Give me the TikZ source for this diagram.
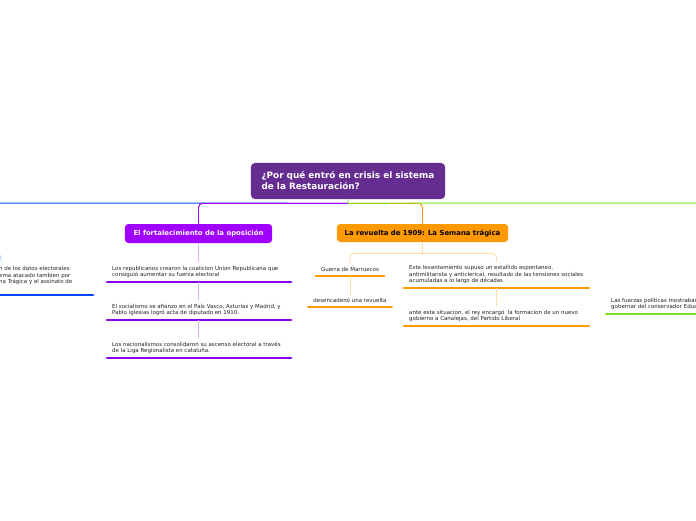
\documentclass[tikz,border=0pt]{standalone}
\usepackage{fontspec}
\setmainfont{DejaVu Sans}

\definecolor{rootcol}{HTML}{662D91}
\definecolor{oppocol}{HTML}{A000FF}
\definecolor{oppodark}{HTML}{8C00E6}
\definecolor{oppolight}{HTML}{DDB3FF}
\definecolor{revcol}{HTML}{FF9900}
\definecolor{revlight}{HTML}{FFDDAA}
\definecolor{bluecol}{HTML}{0047FF}
\definecolor{bluelight}{HTML}{A8C4FF}
\definecolor{greencol}{HTML}{80E020}
\definecolor{leafcol}{HTML}{222222}

\newcommand{\leaffont}{\fontsize{3.9}{4.6}\selectfont}

\begin{document}
\begin{tikzpicture}[x=0.025cm, y=-0.025cm,
  topic/.style={rounded corners=2.5pt, text=white, inner sep=0pt,
    font=\fontsize{4.9}{5.5}\selectfont\bfseries},
  leaf/.style={font=\leaffont, text=leafcol, align=left, inner xsep=3.5pt, inner ysep=2.6pt},
  under/.style={line width=2pt, line cap=round},
  link/.style={line width=0.7pt},
  soft/.style={line width=0.7pt, rounded corners=3pt}]

% page
\fill[white] (0,0) rectangle (696,520);
\useasboundingbox (0,0) rectangle (696,520);
\clip (0,0) rectangle (696,520);

% central topic
\node[topic, fill=rootcol, minimum width=4.85cm, minimum height=0.9cm, align=left,
  rounded corners=2.8pt, font=\fontsize{6.3}{7.8}\selectfont\bfseries]
  (root) at (348,181) {¿Por qué entró en crisis el sistema\\de la Restauración?};
\path (root.south) ++(0,4) coordinate (hub);
\coordinate (westend) at (-5,203);
\coordinate (eastend) at (701,203);

% main topics
\node[topic, fill=oppocol, minimum width=3.68cm, minimum height=0.475cm]
  (oppo) at (198.5,233.5) {El fortalecimiento de la oposición};
\node[topic, fill=revcol, text=black, minimum width=4.28cm, minimum height=0.45cm]
  (revuelta) at (422.5,233) {La revuelta de 1909: La Semana trágica};

% main connectors
\draw[link, bluecol] (hub) -- (westend);
\draw[soft, revcol] (hub) -| (revuelta.north);
\draw[soft, oppocol] (hub) -| (oppo.north);
\draw[link, greencol] (root.south) -- (hub) -- (eastend);

% left branch (blue)
\coordinate (datosfork) at (1,262);
\coordinate (datosline) at (93,295);
\draw[soft, bluelight] (-20,254) -| (datosfork);
\node[leaf, anchor=north west] (datos) at (-6,262.5)
  {n de los datos electorales\\ema atacado tambien por\\na Trágica y el assinato de};
\draw[under, bluecol] (datosline) -- ++(-110,0);

% El fortalecimiento de la oposicion
\node[leaf, anchor=south west] (rep) at (107,282)
  {Los republicanos crearon la coalicion Union Republicana que\\consiguió aumentar su fuerza electoral};
\node[leaf, anchor=south west] (soc) at (107,320)
  {El socialismo se afianzo en el País Vasco, Asturias y Madrid, y\\Pablo iglesias logró acta de diputado en 1910.};
\node[leaf, anchor=south west] (nac) at (107,358)
  {Los nacionalismos consolidaron su ascenso electoral a través\\de la Liga Regionalista en cataluña.};
\foreach \n in {rep,soc,nac}
  \draw[under, oppodark] (\n.south west) -- ++(184,0);
\draw[link, oppolight] (oppo.south) -- (oppo.south |- rep.north);
\draw[link, oppolight] (oppo.south |- rep.south) -- (oppo.south |- soc.north);
\draw[link, oppolight] (oppo.south |- soc.south) -- (oppo.south |- nac.north);

% La revuelta de 1909
\node[leaf, align=center, anchor=south] (guerra) at (350,276) {Guerra de Marruecos};
\node[leaf, align=center, anchor=south] (desenc) at (350,307) {desencadenó una revuelta};
\node[leaf, anchor=south west] (este) at (404,288)
  {Este levantamiento supuso un estallido espontaneo,\\antimilitarista y anticlerical, resultado de las tensiones sociales\\acumuladas a lo largo de décadas};
\node[leaf, anchor=south west] (ante) at (404,326)
  {ante esta situacion, el rey encargó\ \ la formacion de un nuevo\\gobierno a Canalejas, del Partido Liberal};
\draw[under, revcol] (guerra.south west) -- (guerra.south east);
\draw[under, revcol] (desenc.south west) -- (desenc.south east);
\draw[under, revcol] (este.south west) -- ++(185,0);
\draw[under, revcol] (ante.south west) -- ++(185,0);
\path (este.south west) ++(92.5,0) coordinate (estemid);
\path (revuelta.south) ++(0,11) coordinate (fork);
\draw[link, revlight] (revuelta.south) -- (fork);
\draw[soft, revlight] (guerra.north) |- (fork) -| (estemid |- este.north);
\draw[link, revlight] (guerra.south) -- (desenc.north);
\draw[link, revlight] (estemid) -- (estemid |- ante.north);

% right branch (green)
\node[leaf, anchor=south west] (fuerzas) at (606,314)
  {Las fuerzas políticas mostraban\\gobernar del conservador Eduardo};
\draw[under, greencol] (fuerzas.south west) -- ++(100,0);

\end{tikzpicture}
\end{document}
